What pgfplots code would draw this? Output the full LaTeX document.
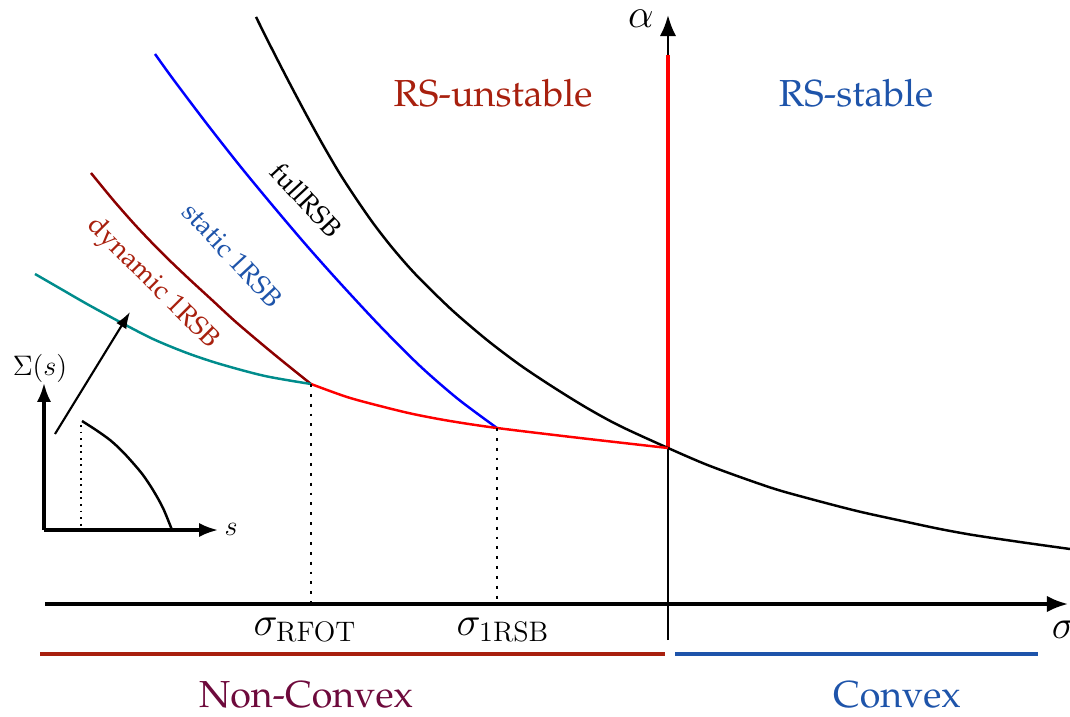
\documentclass[border=0pt]{standalone}
\usepackage[T1]{fontenc}
\renewcommand{\rmdefault}{ppl}
\usepackage{pgfplots}
\pgfplotsset{compat=1.18}
\usetikzlibrary{arrows.meta}

\definecolor{rsred}{RGB}{168,32,14}
\definecolor{rsblue}{RGB}{30,84,170}
\definecolor{ncpurple}{RGB}{110,10,60}
\definecolor{dynred}{RGB}{140,0,0}
\definecolor{tealline}{RGB}{0,140,140}

\begin{document}
\begin{tikzpicture}
\begin{axis}[
  width=16cm, height=10.707cm, scale only axis,
  xmin=0, xmax=1070, ymin=0, ymax=716,
  hide axis, clip=false,
  every axis plot/.append style={line join=round},
]
% main axes
\addplot[black, line width=1.3pt, -{Latex[length=9pt,width=7pt]}] coordinates {(45,112) (1068,112)};
\addplot[black, line width=1.2pt, -{Latex[length=9pt,width=7pt]}] coordinates {(668,76) (668,701)};
\addplot[red, line width=1.3pt] coordinates {(668,661) (668,268)};

% transition lines
\addplot[black, line width=1.05pt, smooth] coordinates {
 (256,699) (273,665) (290,632) (307,600) (323,571) (340,542) (357,516)
 (373,493) (390,471) (407,451) (423,434) (453,405) (487,376) (520,351)
 (553,329) (587,308) (620,290) (668,268) (705,252) (740,239) (775,227)
 (807,218) (857,205) (907,194) (940,187) (973,181) (1020,174) (1070,167)};
\addplot[blue, line width=1.05pt, smooth] coordinates {
 (155,662) (173,637) (207,592) (240,550) (273,510) (307,470) (340,433)
 (380,390) (420,350) (458,317) (497,288)};
\addplot[dynred, line width=1.05pt, smooth] coordinates {
 (91,543) (114,515) (137,489) (162,463) (187,439) (212,416) (237,393)
 (275,361) (311,332)};
\addplot[tealline, line width=1.05pt, smooth] coordinates {
 (35,442) (61,427) (87,412) (120,394) (153,377) (187,363) (220,352)
 (265,340) (311,332)};
\addplot[red, line width=1.05pt, smooth] coordinates {
 (311,332) (347,319) (380,310) (413,302) (450,295) (497,288) (580,278) (668,268)};

% threshold markers
\addplot[black, line width=0.9pt, dash pattern=on 1.2pt off 3pt] coordinates {(311,332) (311,112)};
\addplot[black, line width=0.9pt, dash pattern=on 1.2pt off 3pt] coordinates {(497,288) (497,112)};

% complexity inset
\addplot[black, line width=1.3pt, -{Latex[length=8pt,width=6pt]}] coordinates {(44,186) (44,333)};
\addplot[black, line width=1.3pt, -{Latex[length=8pt,width=6pt]}] coordinates {(44,186) (218,186)};
\addplot[black, line width=1.05pt, smooth] coordinates {
 (82,295) (96,286) (110,276) (122,265) (133,253) (143,241) (153,226) (163,208) (172,186)};
\addplot[black, line width=0.6pt, dash pattern=on 0.8pt off 2pt] coordinates {(81,291) (81,186)};
\addplot[black, line width=0.9pt, -{Latex[length=7pt,width=5pt]}] coordinates {(55,282) (130,404)};

% convexity bars
\addplot[rsred, line width=2pt] coordinates {(40,62) (665,62)};
\addplot[rsblue, line width=2pt] coordinates {(675,62) (1038,62)};

% labels
\node[font=\fontsize{18}{20}\selectfont, inner sep=1pt] at (axis cs:641,697) {$\alpha$};
\node[font=\fontsize{16}{19}\selectfont, text=rsred] at (axis cs:493,623) {RS-unstable};
\node[font=\fontsize{16}{19}\selectfont, text=rsblue] at (axis cs:856,623) {RS-stable};
\node[font=\fontsize{17}{20}\selectfont] at (axis cs:305,86) {$\sigma_{\mathrm{RFOT}}$};
\node[font=\fontsize{17}{20}\selectfont] at (axis cs:503,86) {$\sigma_{\mathrm{1RSB}}$};
\node[font=\fontsize{17}{20}\selectfont] at (axis cs:1064,86) {$\sigma$};
\node[font=\fontsize{16}{19}\selectfont, text=ncpurple] at (axis cs:306,21) {Non-Convex};
\node[font=\fontsize{16}{19}\selectfont, text=rsblue] at (axis cs:897,21) {Convex};
\node[font=\fontsize{11.5}{14}\selectfont, rotate=-47] at (axis cs:306,516) {fullRSB};
\node[font=\fontsize{11.5}{14}\selectfont, rotate=-47, text=rsblue] at (axis cs:232,461) {static 1RSB};
\node[font=\fontsize{11.5}{14}\selectfont, rotate=-45, text=rsred] at (axis cs:152,432) {dynamic 1RSB};
\node[font=\fontsize{13}{15}\selectfont] at (axis cs:40,348) {$\Sigma(s)$};
\node[font=\fontsize{13}{15}\selectfont] at (axis cs:231,187) {$s$};
\end{axis}
\pgfresetboundingbox
\path (current axis.south west) rectangle (current axis.north east);
\end{tikzpicture}
\end{document}
